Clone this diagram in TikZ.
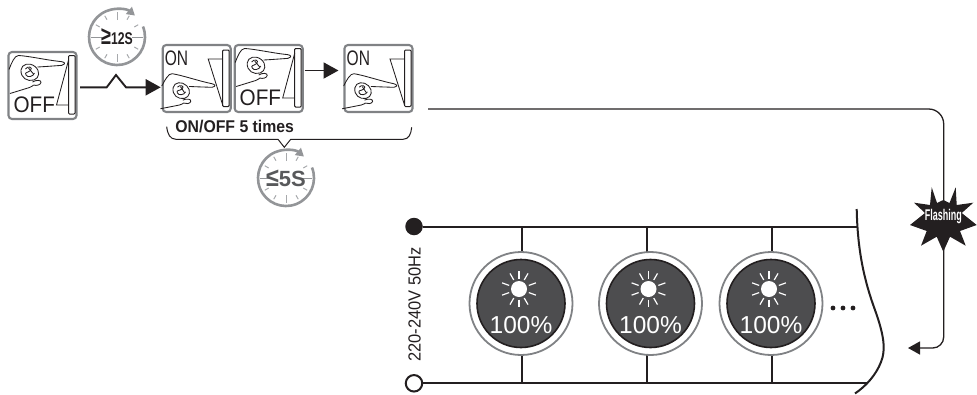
\documentclass[tikz,border=0pt]{standalone}
\usepackage{fontspec}
\setmainfont{Liberation Sans}
\usetikzlibrary{arrows.meta,calc}
\definecolor{ink}{HTML}{231F20}
\definecolor{ringgray}{HTML}{808285}
\definecolor{clockgray}{HTML}{939598}
\definecolor{tickgray}{HTML}{A7A9AC}
\definecolor{bulbdark}{HTML}{4D4D4F}
\definecolor{textgray}{HTML}{58595B}
\tikzset{
  swbox/.style={draw=ringgray,line width=2.1pt,rounded corners=3.5pt,minimum width=68pt,minimum height=67pt,inner sep=0pt,outer sep=0pt,anchor=north west},
  thin ink/.style={draw=ink,line width=0.85pt},
  wire/.style={draw=ink,line width=2pt},
  conn/.style={draw=ink,line width=1.9pt},
  bigarrow/.style={-{Triangle[length=15pt,width=16pt]}},
  swlabel/.style={inner sep=0pt,text=ink},
  bulbtext/.style={inner sep=0pt,text=white,font=\fontsize{24.5}{26}\selectfont},
}
\newcommand\handpic{%
  \draw[thin ink,line join=round] (0.5,17.5) .. controls (3,11) and (6,3.5) .. (10,3.5) .. controls (20,4) and (38,8) .. (50,9.3) .. controls (54,9.5) and (57,10.5) .. (55.8,12) .. controls (55,13.5) and (52,13.5) .. (50,13.6) .. controls (44,14) and (38,14.5) .. (29,15);
  \draw[thin ink] (12.5,18) .. controls (13,12) and (21,10) .. (26.5,14.5) .. controls (32,19) and (31,26) .. (25.5,28) .. controls (19,30) and (12,26) .. (12.5,18);
  \draw[thin ink] (17,17) .. controls (19,13.5) and (25,15) .. (22,18.5) .. controls (19,21) and (16,20) .. (17.5,23) .. controls (19,26) and (25,24.5) .. (26,21);
  \draw[thin ink] (20,16) -- (25,22);
  \draw[thin ink] (1.5,41.5) -- (21,35.5) .. controls (24,34) and (25,33.5) .. (25,33);
  \draw[thin ink] (24,30) .. controls (28,27.5) and (33,28) .. (32.5,30.5) .. controls (32,33) and (28,34) .. (25,33);
}
\newcommand\handon{\begin{scope}[shift={(0.4,24.4)},rotate=-6,scale=0.95]\handpic\end{scope}}
% #1 name, #2 x, #3 y
\newcommand\swoff[3]{%
  \node[swbox] (#1) at (#2,#3) {};
  \begin{scope}[shift={(#2,#3)}]
    \handpic
    \draw[thin ink,line width=1pt,rounded corners=1pt] (60,3.5) rectangle (66.5,62);
    \draw[thin ink] (60,53) -- (48,53) -- (59,12) -- (60,8);
    \node[swlabel,anchor=west] (#1t) at (4.8,53) {\fontsize{22.5}{23}\selectfont\scalebox{0.92}[1]{OFF}};
  \end{scope}}
\newcommand\swon[3]{%
  \node[swbox] (#1) at (#2,#3) {};
  \begin{scope}[shift={(#2,#3)}]
    \handon
    \draw[thin ink,line width=1pt,rounded corners=1pt] (60,5) rectangle (66.5,61.5);
    \draw[thin ink] (60,14) -- (45.5,14) -- (60,60);
    \node[swlabel,anchor=west] (#1t) at (2,13.5) {\fontsize{21}{22}\selectfont\scalebox{0.74}[1]{ON}};
  \end{scope}}
% #1 name, #2 x, #3 y, #4 text
\newcommand\clockpic[4]{%
  \begin{scope}[shift={(#2,#3)}]
    \foreach \a in {30,60,120,150,210,240,300,330}
      \draw[tickgray,line width=1pt] (\a:20pt) -- (\a:24.5pt);
    \foreach \a in {90,270}
      \draw[tickgray,line width=1pt] (\a:17pt) -- (\a:25pt);
    \foreach \a in {0,180}
      \draw[clockgray,line width=1pt] (\a:15pt) -- (\a:26pt);
    \draw[clockgray,line width=2.6pt,-{Triangle[length=8pt,width=9pt]}] (22:28pt) arc[start angle=22,end angle=-310,radius=28pt];
    \node[inner sep=0pt] (#1) at (0,0) {#4};
  \end{scope}}
% #1 name, #2 x, #3 y
\newcommand\bulbpic[3]{%
  \begin{scope}[shift={(#2,#3)}]
    \node[circle,draw=ringgray,line width=1.8pt,fill=white,minimum size=103pt,inner sep=0pt] (#1) at (0,0) {};
    \fill[bulbdark,draw=ink,line width=1.6pt] (0,0) circle[radius=44pt];
    \fill[white] (-2,-14.5) circle[radius=8pt];
    \begin{scope}[shift={(-2,-14.5)}]
      \foreach \a in {90,60,20,-20,-60,-90,-120,-160,160,120}
        \draw[white,line width=1.2pt] (\a:10.5pt) -- (\a:18pt);
    \end{scope}
    \node[bulbtext] (#1t) at (0,21.5) {100\%};
  \end{scope}}
\begin{document}
\begin{tikzpicture}[x=1pt,y=-1pt]
\useasboundingbox (0,0) rectangle (977,394);
% switches
\swoff{s1}{8.5}{52}
\swon{s2}{162.7}{45}
\swoff{s3}{234.7}{45}
\swon{s4}{344.5}{45}
% clocks
\clockpic{c1}{117}{37}{\bfseries\color{ink}\scalebox{0.72}[1]{\fontsize{25}{25}\selectfont ≥}\scalebox{0.72}[1]{\fontsize{17}{17}\selectfont 12S}}
\clockpic{c2}{286}{178}{\bfseries\color{textgray}{\fontsize{26}{26}\selectfont\scalebox{0.9}[1]{≤}}{\fontsize{22}{22}\selectfont 5S}}
% connectors between switches
\coordinate (z1) at (106.7,87.3);
\coordinate (z2) at (116,75);
\coordinate (z3) at (126,87.3);
\draw[conn,bigarrow] (80,87.3) -- (z1) -- (z2) -- (z3) -- ($(s2.west |- z3)+(-2,0)$);
\draw[conn,bigarrow] ($(s3.east)+(2,-8)$) -- ($(s4.west)+(-6,-8)$);
% brace
\coordinate (bl) at (166.7,126.7);
\coordinate (br) at (411.7,127.3);
\coordinate (bt) at (284.3,147.3);
\draw[thin ink,line width=1pt] (bl) .. controls (167.5,134) and (170,139.3) .. (176,139.3) -- (278,139.3) -- (bt) -- (290.7,139.3) -- (403,139.3) .. controls (409,139.3) and (411,134) .. (br);
\node[inner sep=0pt,text=ink] (blabel) at (234.7,126.5) {\fontsize{17}{18}\selectfont\bfseries\scalebox{0.93}[1]{ON/OFF 5 times}};
% mains
\node[circle,fill=ink,minimum size=17.5pt,inner sep=0pt] (live) at (414,226.5) {};
\node[circle,draw=ink,line width=2pt,fill=white,minimum size=16.5pt,inner sep=0pt] (neutral) at (414,383.3) {};
\coordinate (topend) at (857,226.5);
\coordinate (botend) at (868,383.3);
\draw[wire] (live) -- (topend);
\draw[wire] (neutral) -- (botend);
\foreach \wx in {522,647,772}{
  \draw[wire] (\wx,226.5) -- (\wx,383.3);
}
\bulbpic{b1}{521}{303.5}
\bulbpic{b2}{650.5}{303.5}
\bulbpic{b3}{771}{303.5}
\node[rotate=90,inner sep=0pt,text=ink] (volt) at (414.5,304.5) {\fontsize{17.5}{18}\selectfont\scalebox{0.94}[1]{220-240V 50Hz}};
% dots
\foreach \dx in {833,843,853}
  \fill[ink] (\dx,308) circle[radius=2.4pt];
% break line
\draw[ink,line width=2pt] (856.7,209) .. controls (857.5,250) and (864,280) .. (875,310) .. controls (884,335) and (886,350) .. (881,362) .. controls (876,375) and (866,386) .. (855,393.5);
% feedback
\coordinate (fbstart) at (428,109);
\coordinate (fbtip) at (908,348);
\coordinate (fbx) at (943.7,220);
\node[inner sep=0pt,minimum size=1pt] (flash) at (fbx) {};
\draw[ink,line width=1.3pt,rounded corners=15pt] (fbstart) -| (flash.center);
\draw[ink,line width=1.3pt,rounded corners=11pt,-{Triangle[length=12pt,width=13pt]}] (flash.center) |- (fbtip);
% star
\fill[ink] (931.7,187.3) -- (937,203) -- (943.3,200) -- (949.5,203) -- (955.7,187.3) -- (956.7,205) -- (973.3,202.7) -- (961.7,213) -- (976.7,225) -- (960,231) -- (965.7,245.7) -- (950,236.7) -- (943.3,251.7) -- (936.7,236.7) -- (921,245.7) -- (926.7,231) -- (910,225) -- (925,213) -- (914,202.7) -- (930,205) -- cycle;
\node[inner sep=0pt,text=white] (flashtxt) at (943.3,216.5) {\fontsize{15.5}{16}\selectfont\bfseries\scalebox{0.58}[1]{Flashing}};
\end{tikzpicture}
\end{document}
